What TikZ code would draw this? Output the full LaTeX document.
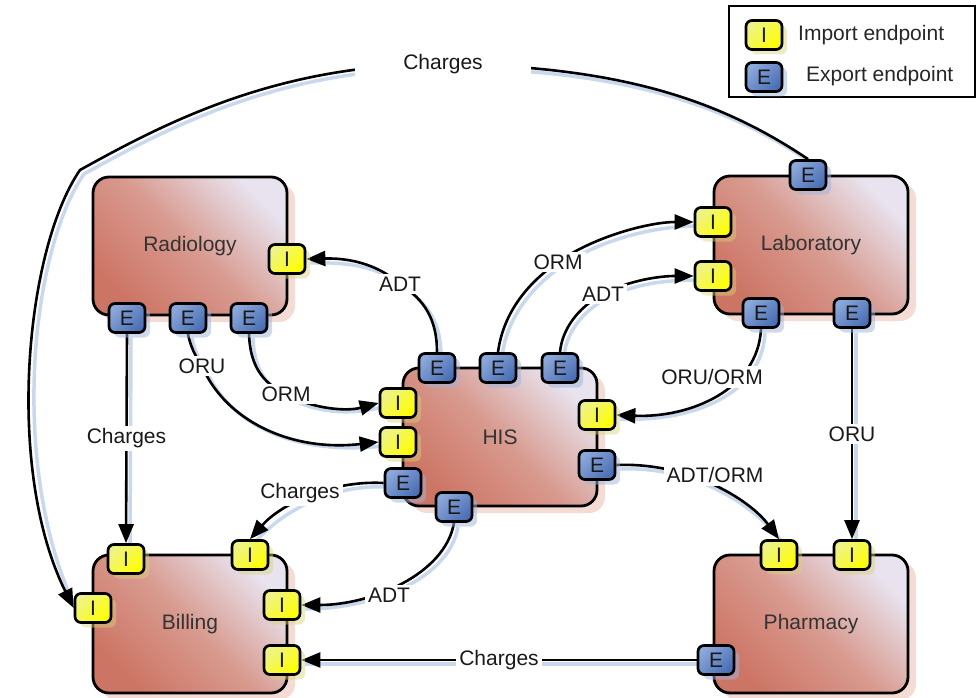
\documentclass[tikz,border=0pt]{standalone}
\usepackage{fontspec}
\setmainfont{Liberation Sans}
\usetikzlibrary{arrows.meta,shadows}

\definecolor{boxdark}{HTML}{CD7565}
\definecolor{boxmid}{HTML}{D89A8F}
\definecolor{boxlight}{HTML}{E8E3EE}
\definecolor{boxshade}{HTML}{F4DCD5}
\definecolor{wireshade}{HTML}{C9D8EC}
\definecolor{yelA}{HTML}{FFFF00}
\definecolor{yelB}{HTML}{EEF28A}
\definecolor{bluA}{HTML}{4A6FB5}
\definecolor{bluB}{HTML}{8CA8DA}
\definecolor{eshade}{HTML}{9FB3DA}
\definecolor{ishade}{HTML}{D8D27A}

\pgfdeclarelayer{boxlayer}
\pgfdeclarelayer{wirelayer}
\pgfsetlayers{boxlayer,wirelayer,main}

\tikzset{
  system/.style={draw, line width=2.8pt, rounded corners=16pt,
    minimum width=194pt, minimum height=138pt, inner sep=0pt,
    top color=boxlight, bottom color=boxdark, middle color=boxmid, shading angle=-45,
    drop shadow={shadow xshift=8pt, shadow yshift=-7pt, fill=boxshade, opacity=1},
    font=\fontsize{21}{24}\selectfont, text=black!80},
  port/.style={draw, line width=2.7pt, rounded corners=6pt,
    minimum width=36pt, minimum height=29pt, inner sep=0pt,
    font=\fontsize{21}{24}\selectfont, text=black!90},
  imp/.style={port, top color=yelB, bottom color=yelA, shading angle=45,
    drop shadow={shadow xshift=5pt, shadow yshift=-5pt, fill=ishade, opacity=0.45}},
  exp/.style={port, top color=bluB, bottom color=bluA, shading angle=45,
    drop shadow={shadow xshift=5pt, shadow yshift=-5pt, fill=eshade, opacity=0.5}},
  wire/.style={line width=2.6pt, -{Triangle[length=19pt,width=15pt]},
    preaction={draw=wireshade, line width=3.5pt, arrows=-,
      transform canvas={shift={(4,4)}}}},
  lbl/.style={fill=white, inner sep=3pt, font=\fontsize{21}{24}\selectfont, text=black!90},
}

\begin{document}
\begin{tikzpicture}[x=1pt, y=-1pt]
\useasboundingbox (0,0) rectangle (977,698);

% systems
\begin{pgfonlayer}{boxlayer}
\node[system] (rad)  at (190,246) {Radiology};
\node[system] (lab)  at (811,245) {Laboratory};
\node[system] (his)  at (500,437) {HIS};
\node[system] (bill) at (190,624) {Billing};
\node[system] (pha)  at (811,624) {Pharmacy};
\end{pgfonlayer}

% endpoints: Radiology
\node[exp] (radE1) at (127,318) {E};
\node[exp] (radE2) at (188,318) {E};
\node[exp] (radE3) at (249,318) {E};
\node[imp] (radI)  at (287,259) {I};
% endpoints: HIS
\node[exp] (hisE1) at (437,368) {E};
\node[exp] (hisE2) at (498,368) {E};
\node[exp] (hisE3) at (560,368) {E};
\node[imp] (hisI1) at (398,403) {I};
\node[imp] (hisI2) at (398,442) {I};
\node[exp] (hisEl) at (403,483) {E};
\node[exp] (hisEb) at (454,507) {E};
\node[imp] (hisIr) at (597,415) {I};
\node[exp] (hisEr) at (597,465) {E};
% endpoints: Laboratory
\node[exp] (labEt) at (808,175) {E};
\node[imp] (labI1) at (713,222) {I};
\node[imp] (labI2) at (713,276) {I};
\node[exp] (labE1) at (761,313) {E};
\node[exp] (labE2) at (852,313) {E};
% endpoints: Billing
\node[imp] (billI1)  at (126,559) {I};
\node[imp] (billI2)  at (250,555) {I};
\node[imp] (billIl)  at (93,608) {I};
\node[imp] (billIr1) at (282,605) {I};
\node[imp] (billIr2) at (282,660) {I};
% endpoints: Pharmacy
\node[imp] (phaI1) at (779,555) {I};
\node[imp] (phaI2) at (852,555) {I};
\node[exp] (phaE)  at (716,660) {E};

% message flows
\begin{pgfonlayer}{wirelayer}
\draw[wire] (labEt.north) .. controls (720,100) and (620,66) .. (443,64)
  node[lbl, inner xsep=48pt] {Charges}
  .. controls (280,64) and (170,120) .. (80,170)
  .. controls (25,250) and (5,470) .. (billIl.west);
\draw[wire] (hisE1.north) .. controls (437,320) and (425,300) .. (400,284)
  node[lbl] {ADT} .. controls (375,262) and (345,258) .. (radI.east);
\draw[wire] (radE3.south) .. controls (250,365) and (262,383) .. (286,394)
  node[lbl] {ORM} .. controls (310,408) and (345,412) .. (hisI1.west);
\draw[wire] (radE2.south) .. controls (190,345) and (195,356) .. (202,366)
  node[lbl] {ORU} .. controls (225,420) and (290,452) .. (hisI2.west);
\draw[wire] (radE1.south) -- node[lbl] {Charges} (billI1.north);
\draw[wire] (hisE2.north) .. controls (503,315) and (525,285) .. (558,262)
  node[lbl] {ORM} .. controls (595,236) and (650,222) .. (labI1.west);
\draw[wire] (hisE3.north) .. controls (562,330) and (577,308) .. (603,294)
  node[lbl] {ADT} .. controls (630,280) and (660,276) .. (labI2.west);
\draw[wire] (labE1.south) .. controls (758,390) and (690,418) .. (hisIr.east)
  node[lbl] at (712,377) {ORU/ORM};
\draw[wire] (hisEr.east) .. controls (690,462) and (750,500) .. (phaI1.north)
  node[lbl] at (715,475) {ADT/ORM};
\draw[wire] (labE2.south) -- node[lbl] {ORU} (phaI2.north);
\draw[wire] (hisEl.west) .. controls (330,480) and (280,505) .. (billI2.north)
  node[lbl] at (300,493) {Charges};
\draw[wire] (hisEb.south) .. controls (445,575) and (370,605) .. (billIr1.east)
  node[lbl] at (389,595) {ADT};
\draw[wire] (phaE.west) -- node[lbl] {Charges} (billIr2.east);
\end{pgfonlayer}

% legend
\node[draw, line width=2pt, minimum width=246pt, minimum height=91pt, inner sep=0pt]
  (legend) at (852,51.5) {};
\node[imp] (legI) at (764,35) {I};
\node[exp] (legE) at (764,77) {E};
\node[anchor=west, inner sep=0pt, font=\fontsize{21}{24}\selectfont, text=black!85]
  (legIt) at (798,35) {Import endpoint};
\node[anchor=west, inner sep=0pt, font=\fontsize{21}{24}\selectfont, text=black!85]
  (legEt) at (806,76) {Export endpoint};
\end{tikzpicture}
\end{document}
